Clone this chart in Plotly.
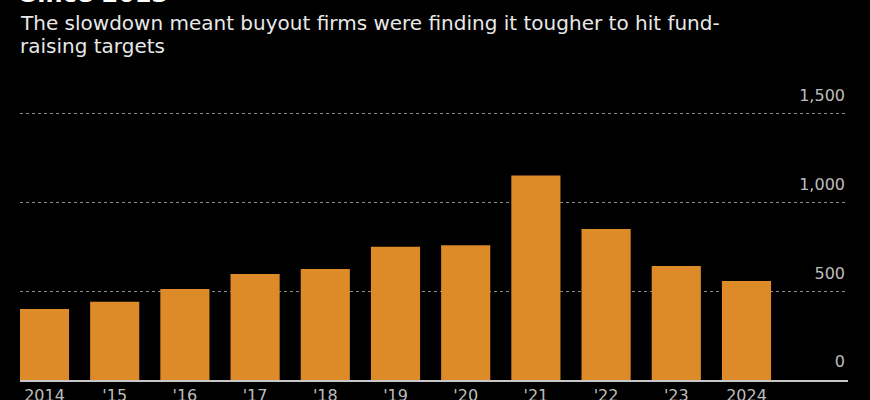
import plotly.graph_objects as go

# Buyout fund-raising by year
years = [2014, 2015, 2016, 2017, 2018, 2019, 2020, 2021, 2022, 2023, 2024]
year_labels = ['2014', "'15", "'16", "'17", "'18", "'19", "'20", "'21", "'22", "'23", '2024']
raised = [400, 441, 513, 597, 626, 751, 759, 1152, 851, 643, 558]

y_ticks = [0, 500, 1000, 1500]
y_tick_labels = ['0', '500', '1,000', '1,500']

title_text = 'Since 2013'
subtitle_lines = ['The slowdown meant buyout firms were finding it tougher to hit fund-',
                  'raising targets']

fig = go.Figure()
fig.add_trace(go.Bar(x=years, y=raised, width=0.7,
                     marker=dict(color='#DD8A28', line=dict(width=0)),
                     hoverinfo='x+y'))

fig.update_layout(
    width=870, height=400,
    paper_bgcolor='black', plot_bgcolor='black',
    margin=dict(l=20, r=22, t=75, b=20),
    showlegend=False,
    font=dict(family='DejaVu Sans', color='#bdbdbd', size=16),
)

fig.update_xaxes(
    range=[2013.651, 2025.446],
    tickvals=years, ticktext=year_labels,
    tickfont=dict(size=16, color='#bdbdbd'),
    showgrid=False, zeroline=False, automargin=False,
    showline=True, linecolor='#c8c8c8', linewidth=1.5,
    ticks='', fixedrange=True,
)
fig.update_yaxes(
    range=[0, 1719],
    side='right', ticklabelposition='inside top', ticklabelshift=-7,
    tickvals=y_ticks, ticktext=y_tick_labels,
    tickfont=dict(size=16, color='#bdbdbd'),
    showgrid=True, gridcolor='#8a8a8a', griddash='dot', gridwidth=1,
    zeroline=False, showline=False, ticks='', fixedrange=True, automargin=False,
)

# title line sits mostly above the top of the page, as in the crop
fig.add_annotation(text='<b>' + title_text + '</b>', xref='paper', yref='paper',
                   x=0, y=1.259, yshift=2, xanchor='left', yanchor='middle', showarrow=False,
                   xshift=-2, font=dict(family='DejaVu Sans', size=24, color='white'))
for line, ypos in zip(subtitle_lines, [1.1705, 1.0951]):
    fig.add_annotation(text=line, xref='paper', yref='paper',
                       x=0, y=ypos, xanchor='left', yanchor='middle', showarrow=False,
                       xshift=-2, font=dict(family='DejaVu Sans', size=20, color='#e8e8e8'))

fig.write_html('out.html', config={'displayModeBar': False},
               post_script="document.body.style.margin='0';")
